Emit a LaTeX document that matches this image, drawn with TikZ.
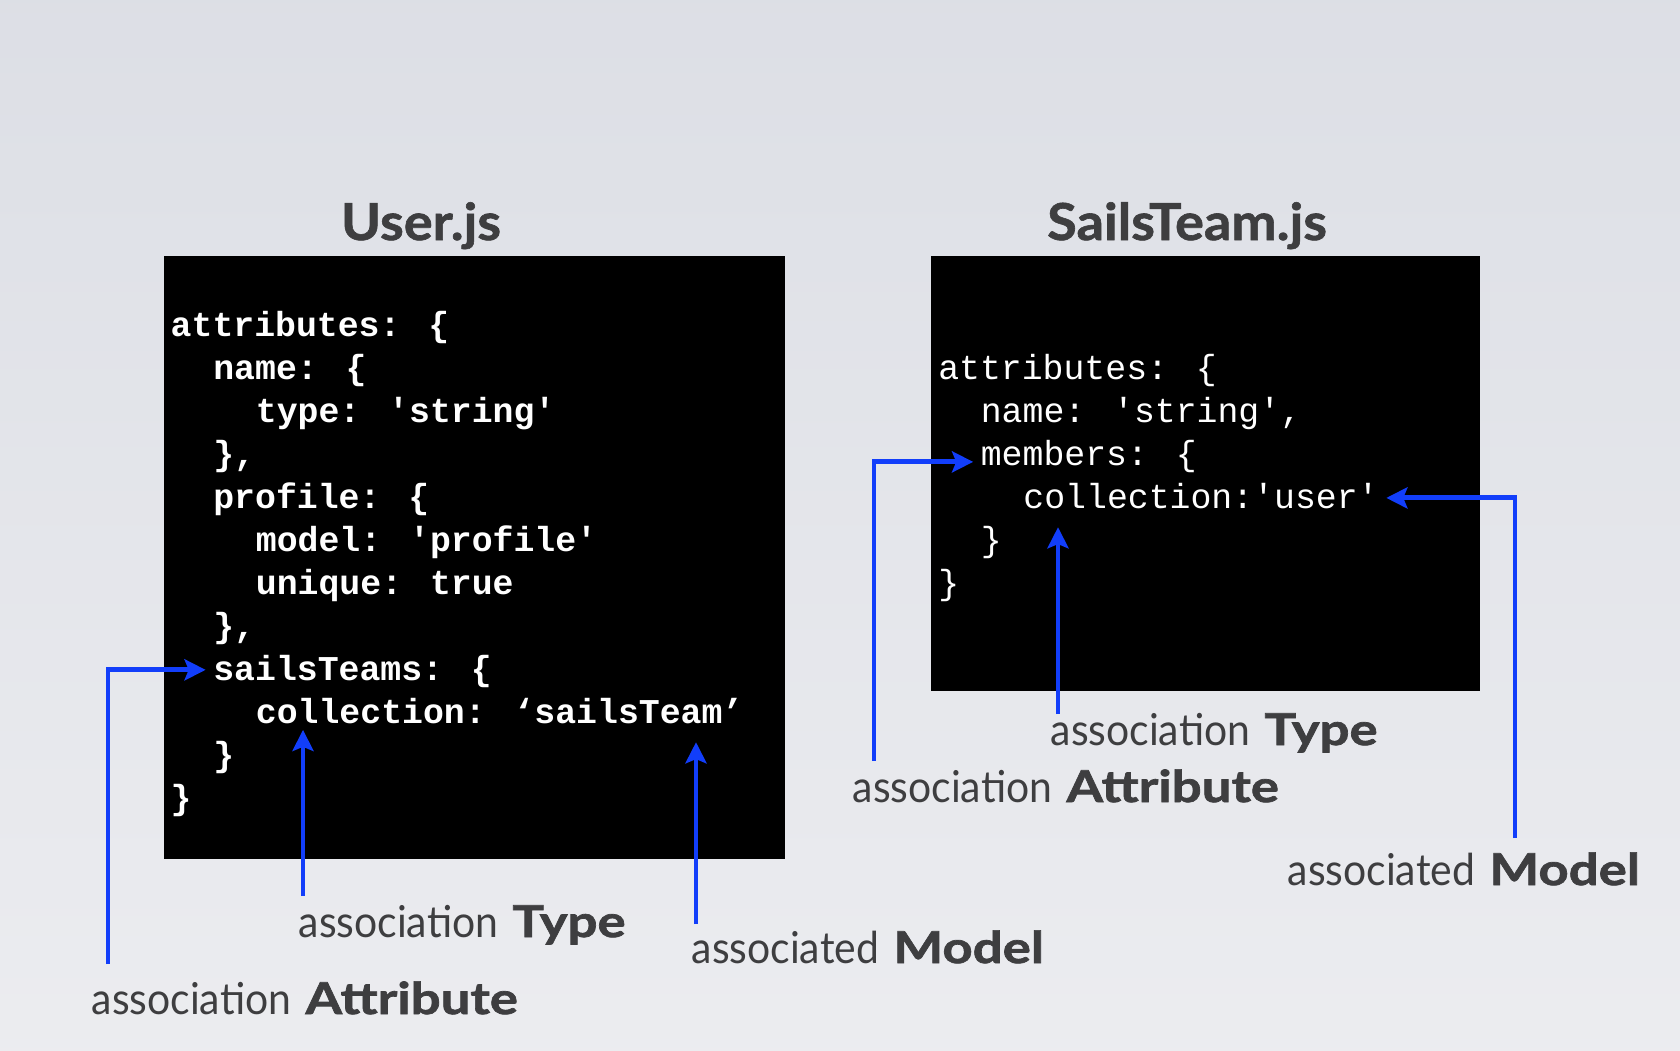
\documentclass[tikz,border=0pt]{standalone}
\usepackage{fontspec}
\usetikzlibrary{arrows.meta, positioning}
\newfontfamily\codefont{Liberation Mono}
\newfontfamily\thinfont[FakeStretch=0.93]{Lato}
\newfontfamily\heavyfont[FakeStretch=1.2, FakeBold=1.6]{Lato}
\newfontfamily\titlefont[FakeStretch=1.06, FakeBold=1.2]{Lato}
\definecolor{bgtop}{RGB}{214,217,225}
\definecolor{bgbottom}{RGB}{242,242,244}
\definecolor{inkgray}{RGB}{62,62,64}
\definecolor{linkblue}{RGB}{18,62,250}
\newcommand{\sq}{\textquotesingle}
\newcommand{\assoc}[2]{{\thinfont #1} {\heavyfont\bfseries #2}}
\tikzset{
    codebox/.style={fill=black, draw=none},
    filetitle/.style={anchor=base, inner sep=0pt, text=inkgray, font=\titlefont\bfseries\fontsize{14.5}{17}\selectfont},
    codeline/.style={anchor=mid west, inner sep=2pt, text=white, font=\codefont\bfseries\fontsize{9.9}{12}\selectfont},
    codethin/.style={codeline, font=\codefont\fontsize{9.9}{12}\selectfont},
    note/.style={anchor=base west, inner sep=0pt, text=inkgray, font=\fontsize{12.5}{15}\selectfont},
    link/.style={draw=linkblue, line width=1.4pt, -{Stealth[length=6pt, width=6pt, inset=1.2pt]}}
}

\begin{document}
\begin{tikzpicture}[x=0.01cm, y=-0.01cm]

    % -----------------------------------------------------------------
    % SFONDO
    % -----------------------------------------------------------------
    \useasboundingbox (0,0) rectangle (1680,1050);
    \begin{scope}
        \clip (0,0) rectangle (1680,1050);
        \shade[top color=bgtop, bottom color=bgbottom] (0,-450) rectangle (1680,1500);
    \end{scope}

    % -----------------------------------------------------------------
    % USER.JS
    % -----------------------------------------------------------------
    \node[filetitle] (userT) at (421,240) {User.js};
    \path[codebox] (164,256) rectangle (785,859);

    \node[codeline] (attrU)   at (163,329)   {attributes: \{};
    \node[codeline] (nameU)   at (205.6,372) {name: \{};
    \node[codeline] (typeU)   at (248.2,415) {type: \sq string\sq};
    \node[codeline] (endNU)   at (205.6,458) {\},};
    \node[codeline] (profU)   at (205.6,501) {profile: \{};
    \node[codeline] (modelU)  at (248.2,544) {model: \sq profile\sq};
    \node[codeline] (uniqU)   at (248.2,587) {unique: true};
    \node[codeline] (endPU)   at (205.6,630) {\},};
    \node[codeline] (sailsT)  at (205.6,673) {sailsTeams: \{};
    \node[codeline] (collU)   at (248.2,716) {collection: ‘sailsTeam’};
    \node[codeline] (endSU)   at (205.6,759) {\}};
    \node[codeline] (endU)    at (163,802)   {\}};

    % -----------------------------------------------------------------
    % SAILSTEAM.JS
    % -----------------------------------------------------------------
    \node[filetitle] (teamT) at (1187,240) {SailsTeam.js};
    \path[codebox] (931,256) rectangle (1480,691);

    \node[codethin] (attrR)   at (930.5,372)  {attributes: \{};
    \node[codethin] (nameR)   at (973.1,415)  {name: \sq string\sq,};
    \node[codethin] (members) at (973.1,458)  {members: \{};
    \node[codethin] (collR)   at (1015.7,501) {collection:\sq user\sq};
    \node[codethin] (endMR)   at (973.1,544)  {\}};
    \node[codethin] (endR)    at (930.5,587)  {\}};

    % -----------------------------------------------------------------
    % ETICHETTE
    % -----------------------------------------------------------------
    \node[note] (uAttrL)  at (91,1014)  {\assoc{association}{Attribute}};
    \node[note] (uTypeL)  at (298,937)  {\assoc{association}{Type}};
    \node[note] (uModelL) at (691,963)  {\assoc{associated}{Model}};
    \node[note] (rAttrL)  at (852,802)  {\assoc{association}{Attribute}};
    \node[note] (rTypeL)  at (1050,745) {\assoc{association}{Type}};
    \node[note] (rModelL) at (1287,885) {\assoc{associated}{Model}};

    % -----------------------------------------------------------------
    % FRECCE
    % -----------------------------------------------------------------
    \coordinate (uAttrS)  at (108,964);
    \coordinate (uTypeS)  at (303,896);
    \coordinate (uModelS) at (696,924);
    \coordinate (rAttrS)  at (874,761);
    \coordinate (rTypeS)  at (1058,714);
    \coordinate (rModelS) at (1515,838);

    \draw[link] (uAttrS) |- ([yshift=0.5pt]sailsT.west);
    \draw[link] (uTypeS) -- ([yshift=0.5pt]uTypeS |- collU.south);
    \draw[link] (uModelS) -- ([yshift=-3pt]uModelS |- collU.south);

    \draw[link] (rAttrS) |- ([yshift=-1.5pt]members.west);
    \draw[link] (rTypeS) -- ([yshift=-3pt]rTypeS |- collR.south);
    \draw[link] (rModelS) |- ([yshift=-0.5pt]collR.east);

\end{tikzpicture}
\end{document}
